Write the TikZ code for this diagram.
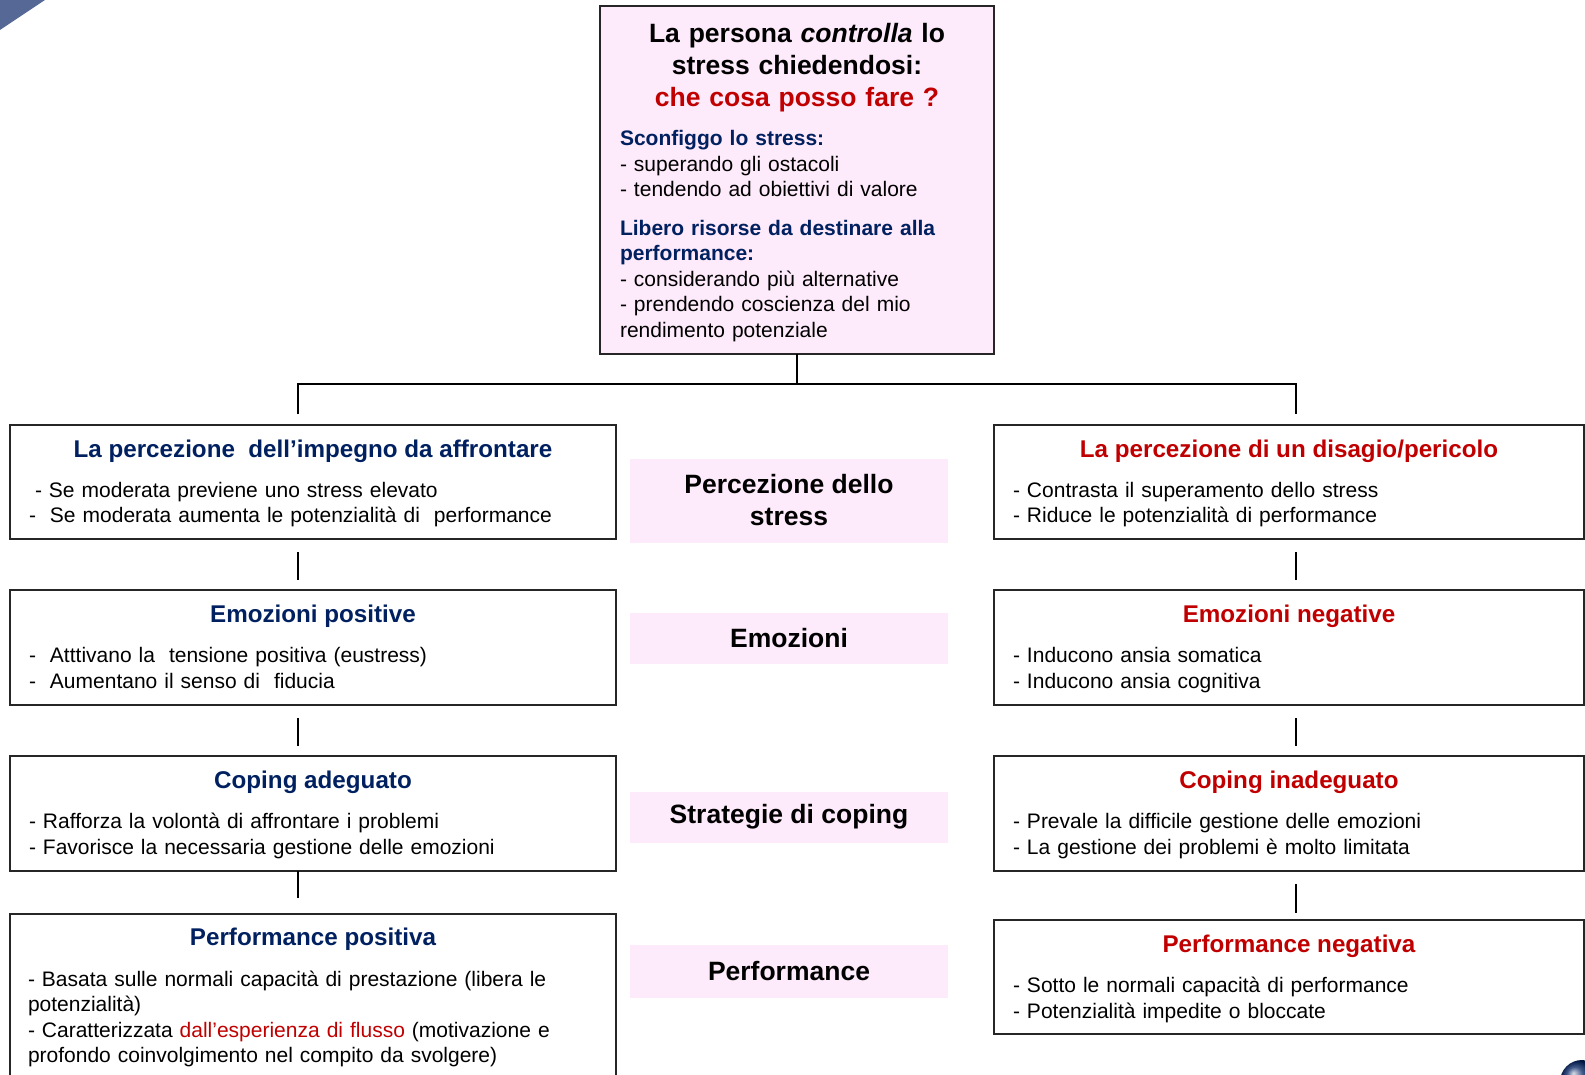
\documentclass[tikz,border=0pt]{standalone}
\usepackage{fontspec}
\setmainfont{Liberation Sans}
\usetikzlibrary{positioning, calc}
\definecolor{stressnavy}{RGB}{0, 32, 96}
\definecolor{stressred}{RGB}{192, 0, 0}
\definecolor{stresspink}{RGB}{253, 234, 250}
\definecolor{slidegrey}{RGB}{86, 104, 150}

\begin{document}
\begin{tikzpicture}[
    x=1pt, y=-1pt,
    every node/.style={inner sep=0pt, outer sep=0pt},
    box/.style={draw=black!85, line width=1.6pt, anchor=north west},
    head/.style={anchor=base, font=\fontsize{24.2}{28}\selectfont\bfseries},
    items/.style={anchor=base west, text width=#1, align=left, font=\fontsize{21}{25.5}\selectfont},
    items/.default=570,
    stage/.style={fill=stresspink, minimum width=318, align=center, font=\fontsize{26.5}{32}\selectfont\bfseries},
    link/.style={line width=1.6pt}
  ]
  \useasboundingbox (0,0) rectangle (1585,1075);

  % slide corners
  \fill[slidegrey] (0,0) -- (45,0) -- (0,30) -- cycle;
  \begin{scope}
    \clip (0,0) rectangle (1585,1075);
    \shade[ball color=stressnavy] (1582,1082) circle (22);
  \end{scope}

  % top box
  \node[box, fill=stresspink, minimum width=394, minimum height=348] (control) at (600,6) {};
  \node[anchor=base, text width=390, align=center, font=\fontsize{26.5}{32}\selectfont\bfseries] (question)
    at ($(control.north)+(0,36.5)$) {La persona \textit{controlla} lo\\ stress chiedendosi:\\ \textcolor{stressred}{che cosa posso fare ?}};
  \node[items=370] (risorse) at ($(control.north west)+(20,140)$)
    {\textcolor{stressnavy}{\bfseries Sconfiggo lo stress:}\\
     - superando gli ostacoli\\
     - tendendo ad obiettivi di valore\\[13pt]
     \textcolor{stressnavy}{\bfseries Libero risorse da destinare alla}\\
     \textcolor{stressnavy}{\bfseries performance:}\\
     - considerando più alternative\\
     - prendendo coscienza del mio\\
     rendimento potenziale};

  % left column
  \node[box, minimum width=606, minimum height=114] (impegno) at (10,425) {};
  \node[box, minimum width=606, minimum height=115] (emopos) at (10,590) {};
  \node[box, minimum width=606, minimum height=115] (copad) at (10,756) {};
  \node[box, minimum width=606, minimum height=200] (perfpos) at (10,914) {};

  \node[head, stressnavy] (impegno-t) at ($(impegno.north)+(0,32.5)$) {La percezione\ \ dell’impegno da affrontare};
  \node[items] (impegno-l) at ($(impegno.north west)+(19,72)$)
    {\hspace*{6pt}- Se moderata previene uno stress elevato\\
     -\ \ Se moderata aumenta le potenzialità di\ \ performance};
  \node[head, stressnavy] (emopos-t) at ($(emopos.north)+(0,32.5)$) {Emozioni positive};
  \node[items] (emopos-l) at ($(emopos.north west)+(19,72.5)$)
    {-\ \ Atttivano la\ \ tensione positiva (eustress)\\
     -\ \ Aumentano il senso di\ \ fiducia};
  \node[head, stressnavy] (copad-t) at ($(copad.north)+(0,32.5)$) {Coping adeguato};
  \node[items] (copad-l) at ($(copad.north west)+(19,72.5)$)
    {- Rafforza la volontà di affrontare i problemi\\
     - Favorisce la necessaria gestione delle emozioni};
  \node[head, stressnavy] (perfpos-t) at ($(perfpos.north)+(0,31.5)$) {Performance positiva};
  \node[items] (perfpos-l) at ($(perfpos.north west)+(18,72)$)
    {- Basata sulle normali capacità di prestazione (libera le\\
     potenzialità)\\
     - Caratterizzata \textcolor{stressred}{dall’esperienza di flusso} (motivazione e\\
     profondo coinvolgimento nel compito da svolgere)};

  % right column
  \node[box, minimum width=590, minimum height=114] (disagio) at (994,425) {};
  \node[box, minimum width=590, minimum height=115] (emoneg) at (994,590) {};
  \node[box, minimum width=590, minimum height=115] (copinad) at (994,756) {};
  \node[box, minimum width=590, minimum height=114] (perfneg) at (994,920) {};

  \node[head, stressred] (disagio-t) at ($(disagio.north)+(0,32.5)$) {La percezione di un disagio/pericolo};
  \node[items] (disagio-l) at ($(disagio.north west)+(19,72)$)
    {- Contrasta il superamento dello stress\\
     - Riduce le potenzialità di performance};
  \node[head, stressred] (emoneg-t) at ($(emoneg.north)+(0,32.5)$) {Emozioni negative};
  \node[items] (emoneg-l) at ($(emoneg.north west)+(19,72.5)$)
    {- Inducono ansia somatica\\
     - Inducono ansia cognitiva};
  \node[head, stressred] (copinad-t) at ($(copinad.north)+(0,32.5)$) {Coping inadeguato};
  \node[items] (copinad-l) at ($(copinad.north west)+(19,72.5)$)
    {- Prevale la difficile gestione delle emozioni\\
     - La gestione dei problemi è molto limitata};
  \node[head, stressred] (perfneg-t) at ($(perfneg.north)+(0,32.5)$) {Performance negativa};
  \node[items] (perfneg-l) at ($(perfneg.north west)+(19,72.5)$)
    {- Sotto le normali capacità di performance\\
     - Potenzialità impedite o bloccate};

  % middle labels
  \node[stage, minimum height=84] (percezione) at (789,500.5) {Percezione dello\\ stress};
  \node[stage, minimum height=51] (emozioni) at (789,638) {Emozioni};
  \node[stage, minimum height=51] (strategie) at (789,817) {Strategie di coping};
  \node[stage, minimum height=53] (performance) at (789,971) {Performance};

  % connectors
  \coordinate (lx) at (298,0);
  \coordinate (rx) at (1296,0);
  \coordinate (split) at ($(control.south)+(0,30)$);
  \draw[link] (control.south) -- (split);
  \draw[link] ($(split -| lx)+(0,30)$) -- (split -| lx) -- (split -| rx) -- ++(0,30);
  \draw[link] ($(impegno.south -| lx)+(0,13)$) -- ($(emopos.north -| lx)+(0,-10)$);
  \draw[link] ($(emopos.south -| lx)+(0,13)$) -- ($(copad.north -| lx)+(0,-10)$);
  \draw[link] (copad.south -| lx) -- ($(perfpos.north -| lx)+(0,-16)$);
  \draw[link] ($(disagio.south -| rx)+(0,13)$) -- ($(emoneg.north -| rx)+(0,-10)$);
  \draw[link] ($(emoneg.south -| rx)+(0,13)$) -- ($(copinad.north -| rx)+(0,-10)$);
  \draw[link] ($(copinad.south -| rx)+(0,13)$) -- ($(perfneg.north -| rx)+(0,-7)$);
\end{tikzpicture}
\end{document}
